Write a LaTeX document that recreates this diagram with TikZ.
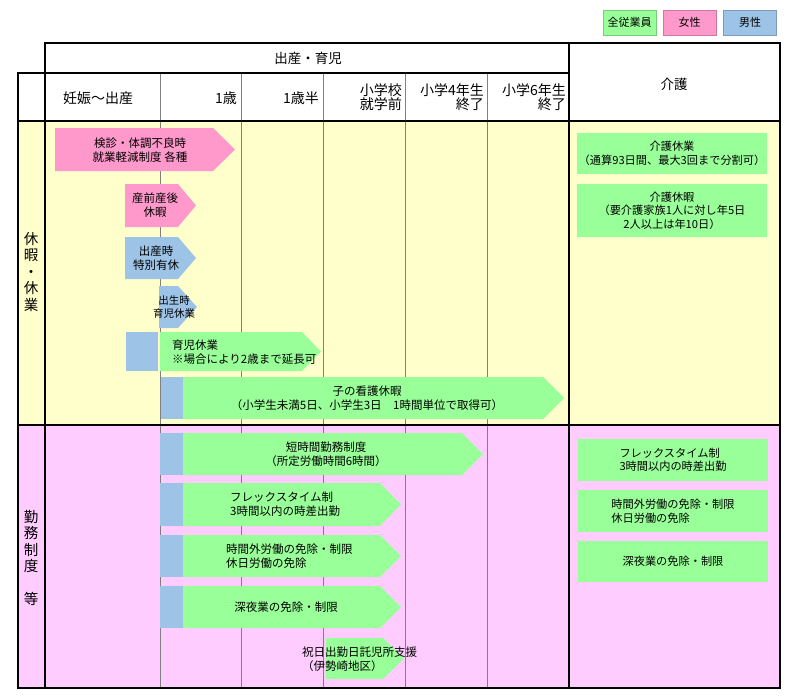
\documentclass[tikz,border=0pt]{standalone}
\usepackage{fontspec}
\setmainfont{Noto Sans CJK JP}
\definecolor{zenin}{HTML}{99FF99}
\definecolor{josei}{HTML}{FF99CC}
\definecolor{dansei}{HTML}{9DC3E6}
\definecolor{kyuka}{HTML}{FFFFCC}
\definecolor{kinmu}{HTML}{FFCCFF}
% colour, left, top, start of point, bottom, tip
\newcommand{\yajirushi}[6]{\fill[#1] (#2,#3) -- (#4,#3) -- (#6,{(#3+#5)/2}) -- (#4,#5) -- (#2,#5) -- cycle;}
\begin{document}
\begin{tikzpicture}[x=1pt,y=-1pt,
  txt/.style={font=\fontsize{11.5}{14}\selectfont, align=center, inner sep=0pt},
  hd/.style={font=\fontsize{14}{14}\selectfont, align=right, inner sep=0pt},
  side/.style={font=\fontsize{14.5}{16.5}\selectfont, align=center, inner sep=0pt},
  gridline/.style={draw=gray, line width=0.7pt},
  frame/.style={draw=black, line width=1.5pt},
  hanrei/.style={txt, font=\fontsize{11}{13}\selectfont, minimum width=53pt, minimum height=25pt, draw=#1!80!black, line width=0.4pt, fill=#1},
  kaigobox/.style={txt, font=\fontsize{11.2}{13.5}\selectfont, align=left, fill=zenin, minimum width=190pt, minimum height=42pt}]
\useasboundingbox (0,0) rectangle (800,699);
% legend
\node[hanrei=zenin] (lgzenin) at (629.5,22.5) {全従業員};
\node[hanrei=josei] (lgjosei) at (689.5,22.5) {女性};
\node[hanrei=dansei] (lgdansei) at (750,22.5) {男性};
% backgrounds
\fill[kyuka] (18,121) rectangle (780,425);
\fill[kinmu] (18,425) rectangle (780,688);
\foreach \x in {160,241,323,405,487} \draw[gridline] (\x,73) -- (\x,688);
% header
\node[hd, font=\fontsize{13.5}{14}\selectfont] (shussan) at (308,58) {出産・育児};
\node[hd, font=\fontsize{13.5}{14}\selectfont] (kaigo) at (674,84) {介護};
\node[hd] (ninshin) at (98,98) {妊娠～出産};
\node[hd, anchor=east] (issai) at (237,98) {1歳};
\node[hd, anchor=east] (issaihan) at (319,98) {1歳半};
\node[hd, anchor=east] (shugaku) at (402,97) {小学校\\就学前};
\node[hd, anchor=east] (yonen) at (484,97) {小学4年生\\終了};
\node[hd, anchor=east] (rokunen) at (566,97) {小学6年生\\終了};
\node[side] (kyugyo) at (31,272) {休\\暇\\・\\休\\業};
\node[side] (kinmuseido) at (31,558) {勤\\務\\制\\度\\[16.5pt]等};
% leave
\yajirushi{josei}{55}{128}{213}{171}{235}
\node[txt] (kenshin) at (140,150) {検診・体調不良時\\就業軽減制度 各種};
\yajirushi{josei}{125}{184}{178}{227}{196}
\node[txt] (sanzen) at (155,205) {産前産後\\休暇};
\yajirushi{dansei}{125}{237}{178}{279}{196}
\node[txt] (tokubetsu) at (156,258) {出産時\\特別有休};
\yajirushi{dansei}{159}{286}{178}{328}{197}
\node[txt, font=\fontsize{10.5}{13.5}\selectfont] (shussei) at (174,307) {出生時\\育児休業};
\fill[dansei] (126,332) rectangle (158,371);
\yajirushi{zenin}{160}{332}{302}{371}{321}
\node[txt, align=left, anchor=west] (ikuji) at (172,352) {育児休業\\※場合により2歳まで延長可};
\fill[dansei] (161,377) rectangle (183,419);
\yajirushi{zenin}{183}{377}{543}{419}{564}
\node[txt] (kango) at (367,398) {子の看護休暇\\（小学生未満5日、小学生3日　1時間単位で取得可）};
\node[kaigobox, align=center, minimum height=41pt] (kaigokyugyo) at (672,153.5) {介護休業\\（通算93日間、最大3回まで分割可）};
\node[kaigobox, align=center, minimum height=53pt] (kaigokyuka) at (672,210.5) {介護休暇\\（要介護家族1人に対し年5日\\2人以上は年10日）};
% working hours
\fill[dansei] (160,433) rectangle (183,475);
\yajirushi{zenin}{183}{433}{462}{475}{483}
\node[txt] (tanjikan) at (326,454) {短時間勤務制度\\（所定労働時間6時間）};
\foreach \t/\b in {483/526,535/577,586/628}{
  \fill[dansei] (160,\t) rectangle (183,\b);
  \yajirushi{zenin}{183}{\t}{380}{\b}{401}
}
\node[txt, align=left, anchor=west] (flex) at (230,504.5) {フレックスタイム制\\3時間以内の時差出勤};
\node[txt, align=left, anchor=west] (jikangai) at (226,556) {時間外労働の免除・制限\\休日労働の免除};
\node[txt] (shinya) at (286,607) {深夜業の免除・制限};
\yajirushi{zenin}{326}{638}{383}{679}{404}
\node[txt, align=left, anchor=west] (takuji) at (302,659) {祝日出勤日託児所支援\\（伊勢崎地区）};
\node[kaigobox] (kflex) at (673,460) {フレックスタイム制\\3時間以内の時差出勤};
\node[kaigobox] (kjikangai) at (673,511) {時間外労働の免除・制限\\休日労働の免除};
\node[kaigobox, align=center, minimum height=41pt] (kshinya) at (673,561.5) {深夜業の免除・制限};
% frame
\draw[frame] (45,73) -- (45,43) -- (780,43) -- (780,688) -- (18,688) -- (18,73) -- (569,73);
\draw[frame] (45,73) -- (45,688);
\draw[frame] (569,43) -- (569,688);
\draw[frame] (18,121) -- (780,121);
\draw[frame] (18,425) -- (780,425);
\end{tikzpicture}
\end{document}
